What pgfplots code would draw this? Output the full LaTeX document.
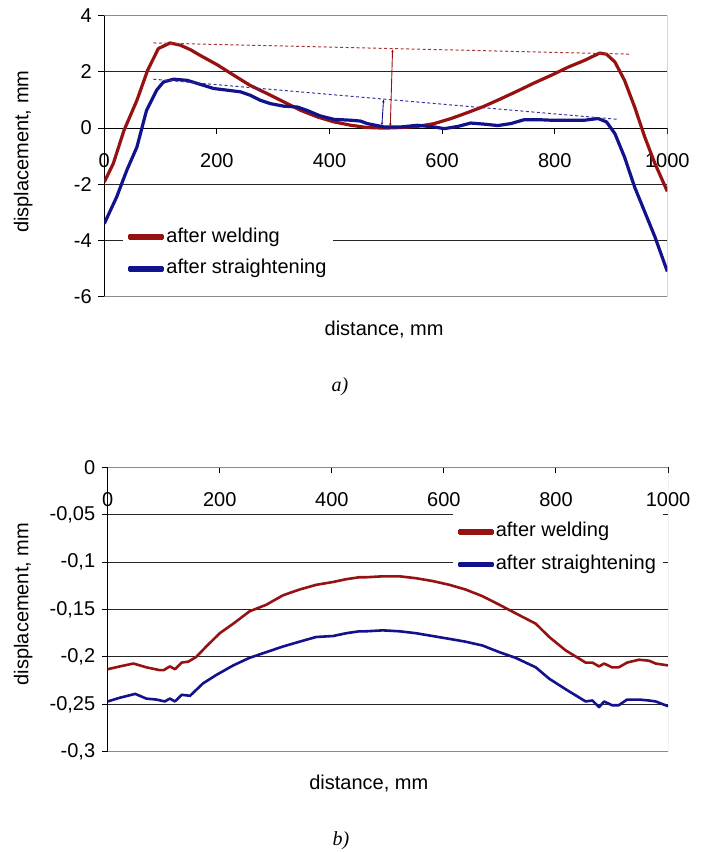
\documentclass[border=0pt]{standalone}
\usepackage{fontspec}
\setmainfont{Liberation Sans}
\newfontfamily\capfont{Liberation Serif}
\usepackage{pgfplots}
\pgfplotsset{compat=1.18}
\usetikzlibrary{arrows.meta}

\definecolor{weld}{RGB}{150,18,18}
\definecolor{straight}{RGB}{18,18,140}
\definecolor{frame}{RGB}{140,140,140}

\newcommand{\fs}{\fontsize{20bp}{24bp}\selectfont}

\pgfplotsset{
  panel/.style={
    scale only axis, anchor=south west,
    xmin=0, xmax=1000, xtick={0,200,...,1000},
    axis x line*=middle, axis y line*=left,
    hide obscured x ticks=false,
    axis line style={black, line width=0.9bp},
    tick align=outside, major tick length=6bp,
    tick style={black, line width=0.9bp},
    ymajorgrids, major grid style={black!85, line width=0.9bp},
    tick label style={font=\fs},
    label style={font=\fs},
    /pgf/number format/assume math mode=true,
    xticklabel style={anchor=north, yshift=-16bp, /pgf/number format/1000 sep={}},
    yticklabel style={anchor=east, xshift=-3bp},
    legend cell align=left,
    legend image code/.code={\fill[#1] (0bp,-1.5bp) rectangle (33bp,1.5bp);},
    legend style={draw=none, fill=white, font=\fs, inner xsep=5bp,
      nodes={inner sep=2bp, text height=15bp, text depth=5bp},
      /tikz/every even column/.append style={column sep=2bp}},
  },
}

\begin{document}
\begin{tikzpicture}
\useasboundingbox (0,0) rectangle (704bp,852bp);

%% a) after welding / after straightening, large scale
\begin{axis}[panel,
  at={(104.3bp,555.3bp)}, width=563bp, height=281bp,
  ymin=-6, ymax=4, ytick={-6,-4,-2,0,2,4},
  xlabel={distance, mm}, ylabel={displacement, mm},
  xlabel style={at={(axis description cs:0.497,-0.117)}, anchor=center},
  ylabel style={at={(axis description cs:-0.144,0.516)}, anchor=center},
  legend style={at={(axis description cs:0.0332,0.2658)}, anchor=north west,
    inner ysep=3bp, row sep=7.5bp},
]
\draw[frame, line width=1bp] (rel axis cs:0,1) -- (rel axis cs:1,1) -- (rel axis cs:1,0) -- (rel axis cs:0,0);
\addplot[weld, line width=3.2bp, line join=round] coordinates {
(0,-1.92)(16,-1.26)(35,-0.08)(58,0.99)(77,2.06)(96,2.83)(117,3.03)(135,2.95)
(153,2.79)(170,2.59)(200,2.26)(230,1.88)(259,1.52)(289,1.23)(319,0.93)(349,0.63)
(378,0.40)(408,0.22)(438,0.10)(467,0.02)(497,0.0)(527,0.02)(556,0.06)(586,0.16)
(616,0.34)(645,0.55)(675,0.78)(705,1.05)(734,1.32)(764,1.61)(794,1.88)(824,2.17)
(853,2.41)(880,2.67)(892,2.63)(907,2.35)(924,1.70)(942,0.75)(960,-0.32)(978,-1.26)
(1000,-2.25)};
\addlegendentry{after welding}
\addplot[straight, line width=3.2bp, line join=round] coordinates {
(0,-3.40)(22,-2.45)(40,-1.50)(58,-0.67)(75,0.63)(93,1.35)(105,1.64)(123,1.74)
(147,1.70)(170,1.56)(194,1.41)(218,1.35)(242,1.29)(259,1.17)(277,0.99)(295,0.87)
(319,0.78)(343,0.75)(360,0.63)(384,0.43)(408,0.31)(438,0.28)(455,0.25)(467,0.16)
(497,0.04)(527,0.04)(556,0.10)(586,0.04)(604,-0.02)(628,0.06)(651,0.18)(675,0.14)
(699,0.09)(722,0.16)(746,0.30)(770,0.30)(794,0.28)(824,0.28)(853,0.28)(877,0.34)
(892,0.22)(907,-0.20)(924,-1.03)(942,-2.10)(954,-2.69)(978,-3.87)(1000,-5.1)};
\addlegendentry{after straightening}
% envelope lines and deflection arrows
\addplot[weld!85, line width=1bp, dash pattern=on 3bp off 2.5bp, forget plot] coordinates {(87,3.03)(936,2.63)};
\addplot[straight!85, line width=1bp, dash pattern=on 3bp off 2.5bp, forget plot] coordinates {(87,1.74)(913,0.31)};
\addplot[weld, line width=0.9bp, {Stealth[length=3bp,width=2.5bp]}-{Stealth[length=3bp,width=2.5bp]}, forget plot] coordinates {(512,2.8)(508,0.06)};
\addplot[straight, line width=0.9bp, {Stealth[length=3bp,width=2.5bp]}-{Stealth[length=3bp,width=2.5bp]}, forget plot] coordinates {(496,1.02)(493,0.1)};
\end{axis}

%% b) small scale
\begin{axis}[panel,
  at={(107.7bp,100.3bp)}, width=560.3bp, height=284.4bp,
  ymin=-0.3, ymax=0, ytick={-0.3,-0.25,-0.2,-0.15,-0.1,-0.05,0},
  yticklabel style={/pgf/number format/.cd, use comma, fixed, precision=2},
  xlabel={distance, mm}, ylabel={displacement, mm},
  xlabel style={at={(axis description cs:0.466,-0.112)}, anchor=center},
  ylabel style={at={(axis description cs:-0.151,0.519)}, anchor=center},
  legend style={at={(axis description cs:0.6163,0.8439)}, anchor=north west,
    inner ysep=8bp, row sep=8.6bp},
]
\draw[frame, line width=1bp] (rel axis cs:0,1) -- (rel axis cs:1,1) -- (rel axis cs:1,0) -- (rel axis cs:0,0);
\addplot[weld, line width=2.6bp, line join=round] coordinates {
(0,-0.213)(22,-0.210)(46,-0.207)(69,-0.211)(93,-0.214)(100,-0.214)(111,-0.210)(120,-0.213)
(132,-0.206)(144,-0.205)(158,-0.200)(176,-0.189)(200,-0.175)(224,-0.165)(253,-0.152)
(283,-0.145)(313,-0.135)(342,-0.129)(372,-0.124)(402,-0.121)(426,-0.118)(449,-0.116)
(461,-0.116)(491,-0.115)(521,-0.115)(550,-0.117)(580,-0.120)(610,-0.124)(639,-0.129)
(669,-0.136)(699,-0.145)(728,-0.154)(764,-0.165)(788,-0.179)(817,-0.193)(853,-0.206)
(865,-0.206)(877,-0.210)(886,-0.207)(900,-0.211)(912,-0.211)(927,-0.206)(948,-0.203)
(966,-0.204)(978,-0.207)(1000,-0.209)};
\addlegendentry{after welding}
\addplot[straight, line width=2.6bp, line join=round] coordinates {
(0,-0.247)(22,-0.243)(49,-0.239)(69,-0.244)(87,-0.245)(102,-0.247)(111,-0.244)(120,-0.247)
(132,-0.240)(147,-0.241)(170,-0.228)(194,-0.219)(224,-0.209)(253,-0.201)(283,-0.195)
(313,-0.189)(342,-0.184)(372,-0.179)(402,-0.178)(426,-0.175)(449,-0.173)(461,-0.173)
(491,-0.172)(521,-0.173)(550,-0.175)(580,-0.178)(610,-0.181)(639,-0.184)(669,-0.188)
(699,-0.195)(728,-0.201)(764,-0.211)(788,-0.223)(817,-0.234)(853,-0.247)(865,-0.246)
(877,-0.253)(886,-0.247)(900,-0.251)(912,-0.251)(927,-0.245)(948,-0.245)(966,-0.246)
(978,-0.247)(1000,-0.252)};
\addlegendentry{after straightening}
\end{axis}

\node[font=\capfont\itshape\fontsize{20bp}{24bp}\selectfont] at (340bp,465.5bp) {a)};
\node[font=\capfont\itshape\fontsize{20bp}{24bp}\selectfont] at (341bp,11bp) {b)};
\end{tikzpicture}
\end{document}
